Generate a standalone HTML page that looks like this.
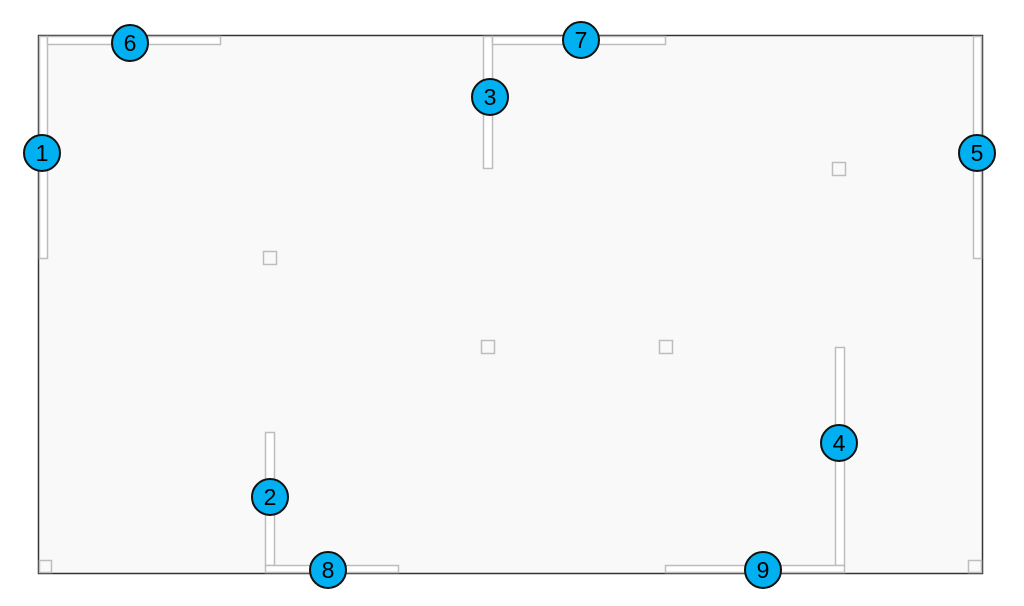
<!DOCTYPE html>
<html><head><meta charset="utf-8"><style>
html,body{margin:0;padding:0;background:#fff;width:1024px;height:606px;overflow:hidden}
</style></head><body>
<svg width="1024" height="606" viewBox="0 0 1024 606" xmlns="http://www.w3.org/2000/svg">
<rect x="38.5" y="35.5" width="944" height="538" fill="#f9f9f9" stroke="#333" stroke-width="1.5"/>
<g fill="#fff" stroke="#bdbdbd" stroke-width="1.5">
<rect x="39.5" y="36.5" width="8" height="222"/>
<rect x="47.5" y="36.5" width="173" height="8"/>
<rect x="483.5" y="36.5" width="9" height="132"/>
<rect x="492.5" y="36.5" width="173" height="8"/>
<rect x="973.5" y="36.5" width="8" height="222"/>
<rect x="265.5" y="432.5" width="9" height="133"/>
<rect x="265.5" y="565.5" width="133" height="7"/>
<rect x="835.5" y="347.5" width="9" height="218"/>
<rect x="665.5" y="565.5" width="179" height="7"/>
<rect x="263.5" y="251.5" width="13" height="13" fill="#f9f9f9"/>
<rect x="481.5" y="340.5" width="13" height="13" fill="#f9f9f9"/>
<rect x="659.5" y="340.5" width="13" height="13" fill="#f9f9f9"/>
<rect x="832.5" y="162.5" width="13" height="13" fill="#f9f9f9"/>
<rect x="39.5" y="560.5" width="12" height="12" fill="#f9f9f9"/>
<rect x="968.5" y="560.5" width="13" height="12" fill="#f9f9f9"/>
</g>
<g font-family="Liberation Sans, sans-serif" font-size="23" text-anchor="middle">
<g fill="#00B0F0" stroke="#111" stroke-width="2">
<circle cx="42" cy="153" r="18"/><circle cx="130" cy="43" r="18"/>
<circle cx="490" cy="97" r="18"/><circle cx="581" cy="40" r="18"/>
<circle cx="977" cy="153" r="18"/><circle cx="270" cy="497" r="18"/>
<circle cx="328" cy="570" r="18"/><circle cx="839" cy="443" r="18"/>
<circle cx="763" cy="570" r="18"/>
</g>
<g fill="#000">
<text x="42" y="161">1</text><text x="130" y="51">6</text>
<text x="490" y="105">3</text><text x="581" y="48">7</text>
<text x="977" y="161">5</text><text x="270" y="505">2</text>
<text x="328" y="578">8</text><text x="839" y="451">4</text>
<text x="763" y="578">9</text>
</g></g>
</svg>
</body></html>
